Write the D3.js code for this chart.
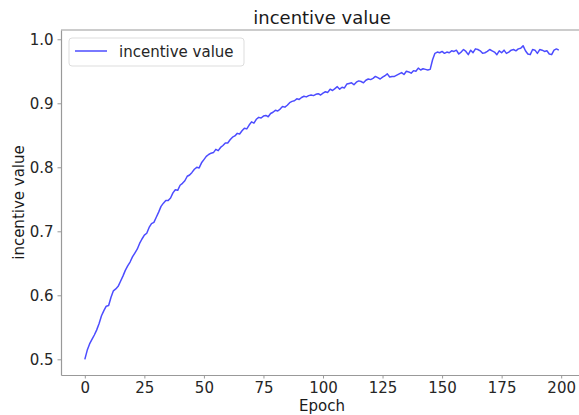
<!DOCTYPE html>
<html>
<head>
<meta charset="utf-8">
<script src="https://cdn.jsdelivr.net/npm/d3@7"></script>
<style>
  body { margin: 0; background: #fff; }
  svg { display: block; font-family: "DejaVu Sans", sans-serif; }
</style>
</head>
<body>
<div id="chart"></div>
<script>
// incentive value per epoch
const values = [
  0.500, 0.514, 0.524, 0.531, 0.538, 0.546, 0.556, 0.568, 0.576, 0.583,
  0.584, 0.597, 0.607, 0.610, 0.614, 0.622, 0.630, 0.639, 0.646, 0.652,
  0.660, 0.666, 0.672, 0.681, 0.688, 0.694, 0.697, 0.706, 0.712, 0.714,
  0.722, 0.730, 0.739, 0.744, 0.748, 0.748, 0.752, 0.760, 0.765, 0.764,
  0.772, 0.775, 0.779, 0.786, 0.788, 0.792, 0.797, 0.800, 0.799, 0.807,
  0.812, 0.817, 0.820, 0.822, 0.823, 0.828, 0.826, 0.831, 0.834, 0.838,
  0.838, 0.843, 0.847, 0.849, 0.853, 0.852, 0.857, 0.861, 0.860, 0.866,
  0.871, 0.869, 0.875, 0.878, 0.877, 0.880, 0.881, 0.879, 0.884, 0.886,
  0.889, 0.888, 0.891, 0.895, 0.894, 0.897, 0.901, 0.903, 0.904, 0.907,
  0.906, 0.909, 0.911, 0.910, 0.912, 0.913, 0.912, 0.914, 0.915, 0.913,
  0.916, 0.918, 0.917, 0.922, 0.920, 0.923, 0.926, 0.922, 0.925, 0.924,
  0.930, 0.931, 0.932, 0.929, 0.933, 0.935, 0.934, 0.932, 0.936, 0.938,
  0.937, 0.939, 0.942, 0.940, 0.938, 0.941, 0.943, 0.946, 0.941, 0.942,
  0.942, 0.944, 0.946, 0.948, 0.945, 0.950, 0.949, 0.947, 0.951, 0.950,
  0.955, 0.952, 0.954, 0.953, 0.952, 0.953, 0.968, 0.978, 0.980, 0.979,
  0.981, 0.978, 0.980, 0.979, 0.982, 0.981, 0.983, 0.977, 0.980, 0.984,
  0.981, 0.976, 0.983, 0.979, 0.985, 0.984, 0.982, 0.978, 0.979, 0.981,
  0.984, 0.982, 0.980, 0.976, 0.982, 0.979, 0.983, 0.978, 0.980, 0.983,
  0.984, 0.982, 0.985, 0.986, 0.990, 0.982, 0.977, 0.976, 0.984, 0.983,
  0.978, 0.984, 0.983, 0.981, 0.982, 0.977, 0.976, 0.983, 0.985, 0.983
];
const epochs = values.map((d, i) => i);
const xTicks = [0, 25, 50, 75, 100, 125, 150, 175, 200];
const yTicks = [0.5, 0.6, 0.7, 0.8, 0.9, 1.0];

const width = 579, height = 415;
const margin = {left: 61, top: 30, right: -6, bottom: 40};

const svg = d3.select("#chart").append("svg")
    .attr("width", width)
    .attr("height", height);

const x = d3.scaleLinear()
    .domain([-10, 210])
    .range([margin.left, width - margin.right]);

const y = d3.scaleLinear()
    .domain([0.4755, 1.0145])
    .range([height - margin.bottom, margin.top]);

// axes
const xAxis = svg.append("g")
    .attr("transform", "translate(0," + (height - margin.bottom) + ")")
    .call(d3.axisBottom(x).tickValues(xTicks).tickSizeInner(3.5).tickSizeOuter(0)
        .tickPadding(4).tickFormat(d3.format("d")));

const yAxis = svg.append("g")
    .attr("transform", "translate(" + margin.left + ",0)")
    .call(d3.axisLeft(y).tickValues(yTicks).tickSizeInner(3.5).tickSizeOuter(0)
        .tickPadding(4).tickFormat(d3.format(".1f")));

[xAxis, yAxis].forEach(function (ax) {
    ax.select(".domain").attr("stroke", "#999").attr("stroke-width", 1.2);
    ax.selectAll(".tick line").attr("stroke", "#999");
    ax.selectAll(".tick text")
        .attr("fill", "#262626")
        .style("font-size", "15px")
        .style("font-family", "DejaVu Sans, sans-serif");
});

// top spine
svg.append("line")
    .attr("x1", margin.left).attr("x2", width - margin.right)
    .attr("y1", margin.top).attr("y2", margin.top)
    .attr("stroke", "#999").attr("stroke-width", 1.2);

// line
const line = d3.line()
    .x(function (d, i) { return x(epochs[i]); })
    .y(function (d) { return y(d); });

svg.append("path")
    .datum(values)
    .attr("fill", "none")
    .attr("stroke", "blue")
    .attr("stroke-opacity", 0.7)
    .attr("stroke-width", 1.5)
    .attr("stroke-linejoin", "round")
    .attr("d", line);

// title and labels
svg.append("text")
    .attr("x", 322).attr("y", 24)
    .attr("text-anchor", "middle")
    .attr("fill", "#1a1a1a")
    .style("font-size", "18px")
    .text("incentive value");

svg.append("text")
    .attr("x", 322).attr("y", 411)
    .attr("text-anchor", "middle")
    .attr("fill", "#1a1a1a")
    .style("font-size", "15px")
    .text("Epoch");

svg.append("text")
    .attr("transform", "translate(24,202.5) rotate(-90)")
    .attr("text-anchor", "middle")
    .attr("fill", "#1a1a1a")
    .style("font-size", "15px")
    .text("incentive value");

// legend
const legend = svg.append("g");
legend.append("rect")
    .attr("x", 69).attr("y", 38)
    .attr("width", 175).attr("height", 28)
    .attr("rx", 3)
    .attr("fill", "white")
    .attr("stroke", "#ddd");
legend.append("line")
    .attr("x1", 75).attr("x2", 107)
    .attr("y1", 51).attr("y2", 51)
    .attr("stroke", "blue")
    .attr("stroke-opacity", 0.7)
    .attr("stroke-width", 1.5);
legend.append("text")
    .attr("x", 119).attr("y", 57)
    .attr("fill", "#262626")
    .style("font-size", "15px")
    .text("incentive value");
</script>
</body>
</html>
